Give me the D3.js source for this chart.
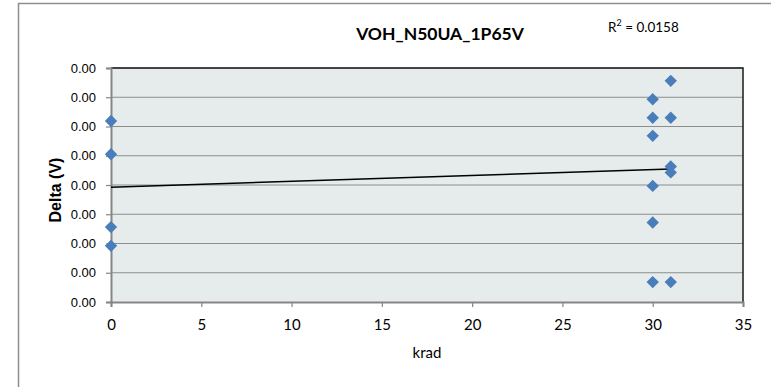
<!DOCTYPE html>
<html>
<head>
<meta charset="utf-8">
<script src="https://cdn.jsdelivr.net/npm/d3@7"></script>
<style>
  html, body { margin: 0; padding: 0; background: #fff; }
  svg { display: block; }
</style>
</head>
<body>
<svg id="chart" width="771" height="387"></svg>
<script>
// Dose (krad) and measured delta (V) for each device
const doseKrad = [0, 0, 0, 0, 30, 30, 30, 30, 30, 30, 31, 31, 31, 31, 31];
const deltaV = [
  0.000619, 0.000505, 0.000256, 0.000192,
  0.000693, 0.000630, 0.000568, 0.000397, 0.000272, 0.000068,
  0.000756, 0.000630, 0.000463, 0.000443, 0.000068
];
const xTicks = [0, 5, 10, 15, 20, 25, 30, 35];
const yTicks = [0, 0.0001, 0.0002, 0.0003, 0.0004, 0.0005, 0.0006, 0.0007, 0.0008];
const chartTitle = "VOH_N50UA_1P65V";
const rSquaredLabel = "0.0158";

const svg = d3.select("#chart");
const plot = { left: 111, right: 743, top: 68, bottom: 302 };

const x = d3.scaleLinear().domain([0, 35]).range([plot.left, plot.right]);
const y = d3.scaleLinear().domain([0, 0.0008]).range([plot.bottom, plot.top]);

// outer chart frame
svg.append("rect")
  .attr("x", 18.5).attr("y", 3.5)
  .attr("width", 790).attr("height", 400)
  .attr("fill", "#fff").attr("stroke", "#8e8e8e").attr("stroke-width", 1.5);

// plot background
svg.append("rect")
  .attr("x", plot.left).attr("y", plot.top)
  .attr("width", plot.right - plot.left).attr("height", plot.bottom - plot.top)
  .attr("fill", "#e6ecec");

// horizontal gridlines
svg.append("g").selectAll("line")
  .data(yTicks.slice(1))
  .join("line")
  .attr("x1", plot.left).attr("x2", plot.right)
  .attr("y1", d => y(d)).attr("y2", d => y(d))
  .attr("stroke", "#8c8c8c").attr("stroke-width", 1.2);

// top and right border of plot area
svg.append("path")
  .attr("d", `M${plot.left},${plot.top}H${plot.right}V${plot.bottom}`)
  .attr("fill", "none").attr("stroke", "#1a1a1a").attr("stroke-width", 1.5);

// y axis
const yAxis = d3.axisLeft(y).tickValues(yTicks).tickFormat(d3.format(".2f")).tickSize(5).tickPadding(10);
const gy = svg.append("g").attr("transform", `translate(${plot.left},0)`).call(yAxis);
gy.select(".domain").attr("stroke", "#868686").attr("stroke-width", 2);
gy.selectAll(".tick line").attr("stroke", "#868686").attr("stroke-width", 1.2);
gy.selectAll(".tick text")
  .attr("font-family", "'Liberation Sans', Arial, sans-serif")
  .attr("font-size", 13).attr("fill", "#000");

// x axis
const xAxis = d3.axisBottom(x).tickValues(xTicks).tickFormat(d3.format("d")).tickSize(5).tickPadding(12);
const gx = svg.append("g").attr("transform", `translate(0,${plot.bottom})`).call(xAxis);
gx.select(".domain").attr("stroke", "#868686").attr("stroke-width", 2);
gx.selectAll(".tick line").attr("stroke", "#868686").attr("stroke-width", 1.2);
gx.selectAll(".tick text")
  .attr("font-family", "Lato, 'Open Sans', sans-serif")
  .attr("font-size", 15).attr("fill", "#000");

// least-squares trend line
const n = doseKrad.length;
const mx = d3.mean(doseKrad), my = d3.mean(deltaV);
let sxy = 0, sxx = 0;
for (let i = 0; i < n; i++) {
  sxy += (doseKrad[i] - mx) * (deltaV[i] - my);
  sxx += (doseKrad[i] - mx) ** 2;
}
const slope = sxy / sxx, intercept = my - slope * mx;
const xExt = d3.extent(doseKrad);
svg.append("line")
  .attr("x1", x(xExt[0])).attr("y1", y(intercept + slope * xExt[0]))
  .attr("x2", x(xExt[1])).attr("y2", y(intercept + slope * xExt[1]))
  .attr("stroke", "#000").attr("stroke-width", 1.5);

// data markers
const diamond = d3.symbol().type(d3.symbolDiamond2).size(98);
svg.append("g").selectAll("path")
  .data(doseKrad.map((d, i) => [d, deltaV[i]]))
  .join("path")
  .attr("d", diamond)
  .attr("transform", d => `translate(${x(d[0])},${y(d[1])})`)
  .attr("fill", "#4a7ebb");

// title
svg.append("text")
  .attr("x", 440).attr("y", 40)
  .attr("text-anchor", "middle")
  .attr("font-family", "Lato, 'Open Sans', sans-serif")
  .attr("font-weight", "bold").attr("font-size", 17.5)
  .text(chartTitle);

// R² annotation
const r2 = svg.append("text")
  .attr("x", 608).attr("y", 32)
  .attr("font-family", "Lato, 'Open Sans', sans-serif")
  .attr("font-size", 13.5);
r2.append("tspan").text("R");
r2.append("tspan").attr("font-size", 9).attr("dy", -6).text("2");
r2.append("tspan").attr("dy", 6).text(" = " + rSquaredLabel);

// axis titles
svg.append("text")
  .attr("x", 427).attr("y", 358)
  .attr("text-anchor", "middle")
  .attr("font-family", "Lato, 'Open Sans', sans-serif")
  .attr("font-size", 15)
  .text("krad");

svg.append("text")
  .attr("transform", `translate(61,${(plot.top + plot.bottom) / 2 + 5}) rotate(-90)`)
  .attr("text-anchor", "middle")
  .attr("font-family", "'Liberation Sans', Arial, sans-serif")
  .attr("font-weight", "bold").attr("font-size", 16)
  .text("Delta (V)");
</script>
</body>
</html>
